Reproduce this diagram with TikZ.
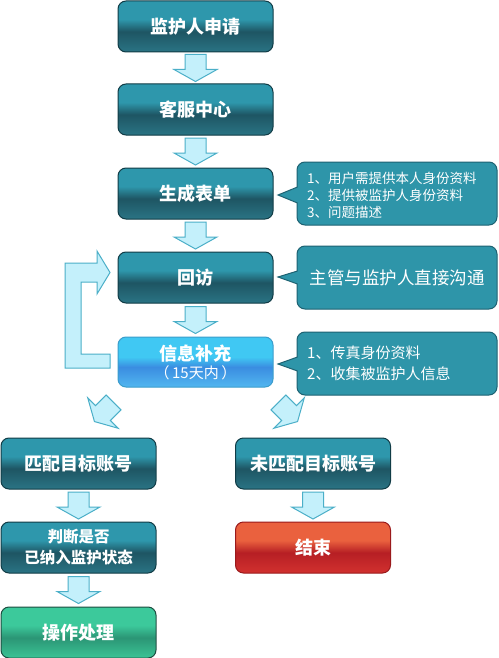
\documentclass[tikz,border=0pt]{standalone}
\usepackage{fontspec}
\newfontfamily\cjk{Noto Sans CJK SC}
\usetikzlibrary{calc}
\definecolor{ttop}{HTML}{2E97AC}
\definecolor{tdark}{HTML}{1E5563}
\definecolor{tbot}{HTML}{2A7484}
\definecolor{tborder}{HTML}{113C46}
\definecolor{btop}{HTML}{40C8F3}
\definecolor{bdark}{HTML}{3A8DE1}
\definecolor{bbot}{HTML}{52B6F0}
\definecolor{bborder}{HTML}{3B9DCB}
\definecolor{gtop}{HTML}{3CC99B}
\definecolor{gdark}{HTML}{2B9575}
\definecolor{gbot}{HTML}{3BC495}
\definecolor{gborder}{HTML}{1D4D40}
\definecolor{rtop}{HTML}{EA613E}
\definecolor{rdark}{HTML}{B61F24}
\definecolor{rbot}{HTML}{D2312F}
\definecolor{rborder}{HTML}{9A1A1C}
\definecolor{calfill}{HTML}{2E95A9}
\definecolor{calborder}{HTML}{1D6272}
\definecolor{arrfill}{HTML}{C4F0FB}
\definecolor{arrborder}{HTML}{4BAFC8}
\pgfdeclareverticalshading{tealsh}{100bp}{color(0bp)=(tbot); color(25bp)=(tbot); color(45bp)=(tdark); color(57bp)=(ttop); color(75bp)=(ttop); color(100bp)=(ttop)}
\pgfdeclareverticalshading{bluesh}{100bp}{color(0bp)=(bbot); color(25bp)=(bbot); color(45bp)=(bdark); color(55bp)=(btop); color(75bp)=(btop); color(100bp)=(btop)}
\pgfdeclareverticalshading{greensh}{100bp}{color(0bp)=(gbot); color(25bp)=(gbot); color(45bp)=(gdark); color(57bp)=(gtop); color(75bp)=(gtop); color(100bp)=(gtop)}
\pgfdeclareverticalshading{redsh}{100bp}{color(0bp)=(rbot); color(25bp)=(rbot); color(45bp)=(rdark); color(57bp)=(rtop); color(75bp)=(rtop); color(100bp)=(rtop)}
\tikzset{
  box/.style={rounded corners=8, line width=1, text=white, align=center,
    font=\cjk\bfseries\fontsize{18}{21}\selectfont,
    minimum width=155, minimum height=51, inner sep=0, shade},
  tealbox/.style={box, draw=tborder, shading=tealsh},
  bluebox/.style={box, draw=bborder, shading=bluesh},
  greenbox/.style={box, draw=gborder, shading=greensh},
  redbox/.style={box, draw=rborder, shading=redsh},
  calbox/.style={fill=calfill, draw=calborder, line width=1, rounded corners=8},
  caltext/.style={text=white, align=left, inner sep=0, font=\cjk},
  arrsty/.style={fill=arrfill, draw=arrborder, line width=1, line join=miter},
  blockarrow/.pic={\path[arrsty] (-10.5,-13.5) -- (10.5,-13.5) -- (10.5,1.5) -- (21.5,1.5) -- (0,13.5) -- (-21.5,1.5) -- (-10.5,1.5) -- cycle;}
}
\begin{document}
\begin{tikzpicture}[x=1pt,y=-1pt]
\useasboundingbox (0,0) rectangle (498,658);
\fill[white] (0,0) rectangle (498,658);

% main boxes
\node[tealbox] (n1) at (195.5,26.5) {监护人申请};
\node[tealbox] (n2) at (195.5,109.5) {客服中心};
\node[tealbox] (n3) at (195.5,193.5) {生成表单};
\node[tealbox] (n4) at (195.5,277.5) {回访};
\node[bluebox, minimum height=50] (n5) at (195.5,362) {信息补充\\[-3pt]{\mdseries\fontsize{15}{17}\selectfont （\,15天内\,）}};
\node[tealbox] (n6) at (78.5,463.5) {匹配目标账号};
\node[tealbox] (n7) at (313,463.5) {未匹配目标账号};
\node[tealbox, font=\cjk\bfseries\fontsize{15.5}{21}\selectfont] (n8) at (78.5,547.5) {判断是否\\已纳入监护状态};
\node[redbox] (n9) at (313,547.5) {结束};
\node[greenbox] (n10) at (78.5,632.5) {操作处理};

% block arrows
\pic at ($(n1.south)!0.5!(n2.north)$) {blockarrow};
\pic at ($(n2.south)!0.5!(n3.north)$) {blockarrow};
\pic at ($(n3.south)!0.5!(n4.north)$) {blockarrow};
\pic at ($(n4.south)!0.5!(n5.north)$) {blockarrow};
\pic at ($(n6.south)!0.5!(n8.north)$) {blockarrow};
\pic at ($(n8.south)!0.5!(n10.north)$) {blockarrow};
\pic at ($(n7.south)!0.5!(n9.north)$) {blockarrow};
\coordinate (dl) at (104,412);
\coordinate (dr) at (288,412);
\pic[rotate=-45] at (dl) {blockarrow};
\pic[rotate=45] at (dr) {blockarrow};

% loop arrow back to 回访
\path[arrsty] (110,368) -- (65,368) -- (65,263) -- (97,263) -- (97,251) -- (110,272.5) -- (97,294) -- (97,282) -- (81,282) -- (81,354) -- (110,354) -- cycle;

% callouts
\draw[calbox] (297,162) rectangle (497,225);
\fill[calfill] (298,187) -- (278,195) -- (298,203) -- cycle;
\draw[calborder, line width=1] (297.5,187) -- (278,195) -- (297.5,203);
\node[caltext, anchor=west, font=\cjk\fontsize{13.5}{17}\selectfont] (c1) at (307,195) {1、用户需提供本人身份资料\\2、提供被监护人身份资料\\3、问题描述};

\draw[calbox] (297,246) rectangle (497,309);
\fill[calfill] (298,271) -- (278,277) -- (298,284) -- cycle;
\draw[calborder, line width=1] (297.5,271) -- (278,277) -- (297.5,284);
\node[caltext, font=\cjk\fontsize{17.5}{21}\selectfont] (c2) at (397,277.5) {主管与监护人直接沟通};

\draw[calbox] (297,332) rectangle (497,395);
\fill[calfill] (298,357) -- (278,364) -- (298,371) -- cycle;
\draw[calborder, line width=1] (297.5,357) -- (278,364) -- (297.5,371);
\node[caltext, anchor=west, font=\cjk\fontsize{15}{21}\selectfont] (c3) at (307,363.5) {1、传真身份资料\\2、收集被监护人信息};
\end{tikzpicture}
\end{document}
